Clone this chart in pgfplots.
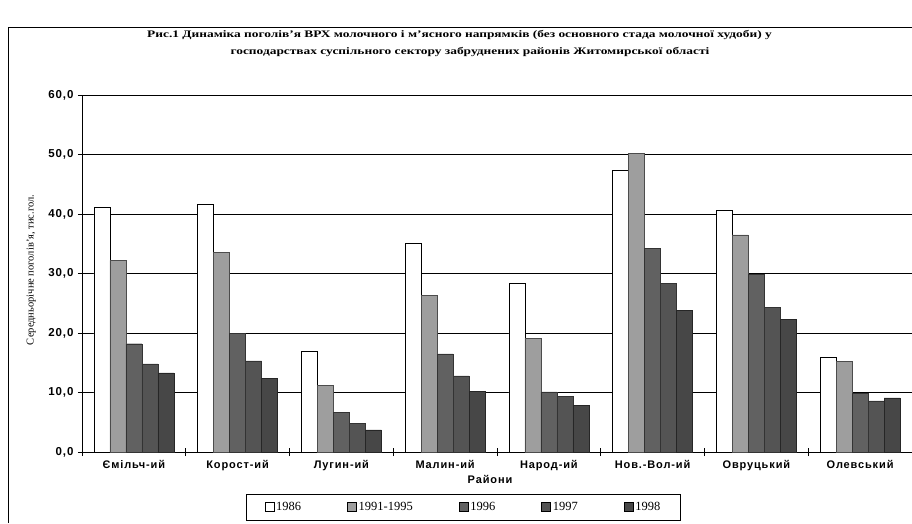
\documentclass[border=0pt]{standalone}
\usepackage{fontspec}
\setmainfont{Liberation Serif}
\newfontfamily\sansb{Liberation Sans}[BoldFont={Liberation Sans Bold},LetterSpace=8]
\usepackage{pgfplots}
\pgfplotsset{compat=1.18}
\usepackage{graphicx}
\begin{document}
\begin{tikzpicture}[x=1pt,y=1pt]
\useasboundingbox (0,0) rectangle (912,523);
\draw[line width=0.8pt] (8,0) -- (8,496) -- (912,496);
\node[font=\bfseries\fontsize{10}{12}\selectfont] at (459.5,488) {\scalebox{1.34}[1]{Рис.1 Динаміка поголів'я ВРХ молочного і м'ясного напрямків (без основного стада молочної худоби) у}};
\node[font=\bfseries\fontsize{10}{12}\selectfont] at (470,471) {\scalebox{1.34}[1]{господарствах суспільного сектору забруднених районів Житомирської області}};
\begin{axis}[
  at={(82pt,71pt)}, anchor=south west,
  scale only axis, width=830pt, height=357pt,
  xmin=-0.5, xmax=7.5, ymin=0, ymax=60,
  ybar=0pt, bar width=16pt,
  axis lines=left, axis line style={-, line width=0.8pt},
  xtick={0,1,2,3,4,5,6,7},
  xticklabels={Ємільч-ий,Корост-ий,Лугин-ий,Малин-ий,Народ-ий,Нов.-Вол-ий,Овруцький,Олевський},
  major x tick style={draw=none},
  minor xtick={-0.5,0.5,1.5,2.5,3.5,4.5,5.5,6.5,7.5},
  minor x tick style={black, line width=0.7pt},
  minor tick length=8pt,
  ytick={0,10,20,30,40,50,60},
  major y tick style={black, line width=0.7pt},
  major tick length=8pt,
  tick align=center,
  ymajorgrids, grid style={black, line width=0.7pt},
  xticklabel style={font=\sansb\bfseries\fontsize{11}{12}\selectfont, yshift=-1pt},
  yticklabel style={font=\sansb\bfseries\fontsize{11.5}{12}\selectfont, xshift=-1pt},
  /pgf/number format/.cd, fixed, fixed zerofill, precision=1, use comma, assume math mode=true,
  /pgfplots/.cd,
  ylabel={Середньорічне поголів'я, тис.гол.},
  ylabel style={at={(axis description cs:-0.061,0.51)}, anchor=center, font=\fontsize{10.5}{12}\selectfont},
  xlabel={Райони},
  xlabel style={at={(axis description cs:0.4916,-0.0756)}, anchor=center, font=\sansb\bfseries\fontsize{11}{12}\selectfont},
  legend columns=5,
  legend style={at={(axis description cs:0.4596,0)}, anchor=north, yshift=-42pt,
    draw=black, line width=0.7pt, font=\fontsize{12.5}{14}\selectfont, inner ysep=6pt, inner xsep=18pt,
    /tikz/every even column/.append style={column sep=44pt}},
  legend image code/.code={\draw[#1, draw=black, line width=0.5pt] (0pt,-4pt) rectangle (9pt,5pt);},
]
\addplot[fill=white, draw=black, line width=0.6pt] coordinates {(0,41.2) (1,41.7) (2,16.9) (3,35.1) (4,28.3) (5,47.4) (6,40.6) (7,16.0)};
\addplot[fill=black!38, draw=black!70, line width=0.4pt] coordinates {(0,32.2) (1,33.6) (2,11.2) (3,26.3) (4,19.1) (5,50.2) (6,36.5) (7,15.2)};
\addplot[fill=black!62, draw=black!80, line width=0.4pt] coordinates {(0,18.2) (1,19.9) (2,6.7) (3,16.5) (4,10.1) (5,34.2) (6,29.8) (7,9.8)};
\addplot[fill=black!67, draw=black!80, line width=0.4pt] coordinates {(0,14.8) (1,15.3) (2,4.8) (3,12.8) (4,9.3) (5,28.4) (6,24.3) (7,8.6)};
\addplot[fill=black!72, draw=black!85, line width=0.4pt] coordinates {(0,13.3) (1,12.4) (2,3.7) (3,10.2) (4,7.9) (5,23.8) (6,22.3) (7,9.1)};
\legend{1986,1991-1995,1996,1997,1998}
\end{axis}
\end{tikzpicture}
\end{document}
